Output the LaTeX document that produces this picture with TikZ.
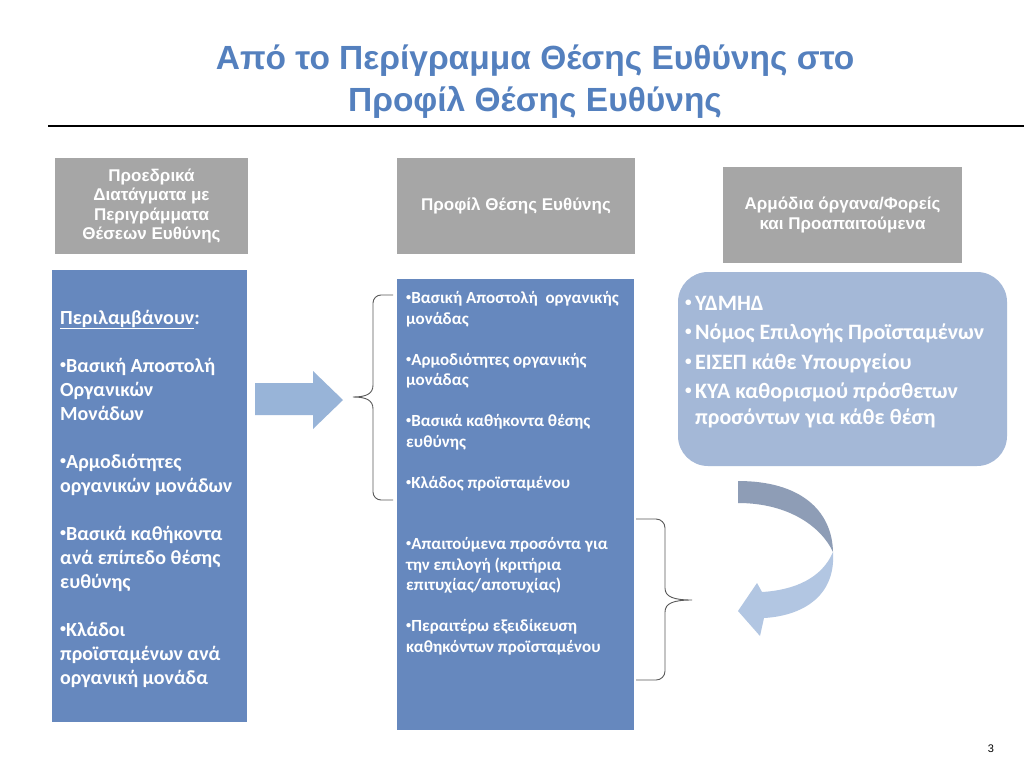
\documentclass[tikz,border=0pt]{standalone}
\usepackage{fontspec}
\setmainfont{Liberation Sans}
\newfontfamily\calibri{Carlito}
\usepackage{tikz}
\usetikzlibrary{positioning}

\definecolor{titleblue}{RGB}{84,128,190}
\definecolor{boxgray}{RGB}{166,166,166}
\definecolor{boxblue}{RGB}{102,136,190}
\definecolor{softblue}{RGB}{164,184,215}
\definecolor{arrowblue}{RGB}{152,180,216}
\definecolor{arrowdark}{RGB}{142,157,182}
\definecolor{arrowlight}{RGB}{178,198,226}
\definecolor{bracegray}{RGB}{89,89,89}

\newcommand\blt{\raisebox{.17em}{\scalebox{.6}{•}}}

\begin{document}
\begin{tikzpicture}[
        x = 1pt, y = -1pt, % pixel grid, y going down
        graybox/.style = {fill=boxgray, text=white, align=center, inner sep=0pt,
                          font=\bfseries\fontsize{17}{19.5}\selectfont},
        bluebox/.style = {fill=boxblue, inner sep=0pt},
        bodytext/.style = {text=white, anchor=base west, align=left, inner sep=0pt}, % base = last line
        bracket/.style = {draw=bracegray, line width=0.9pt}
        ]

  \fill[white] (0,0) rectangle (1024,768);
  \useasboundingbox (0,0) rectangle (1024,768);

  % title
  \node[font=\bfseries\fontsize{33.5}{42}\selectfont, text=titleblue, align=center,
        anchor=base, inner sep=0pt] (title) at (535,111)
        {Από το Περίγραμμα Θέσης Ευθύνης στο\\Προφίλ Θέσης Ευθύνης};
  \draw[line width=1.5pt] (48,126) -- (1024,126);

  % headers
  \node[graybox, minimum width=193pt, minimum height=96pt] (decrees) at (151.5,206)
        {Προεδρικά\\Διατάγματα με\\Περιγράμματα\\Θέσεων Ευθύνης};
  \node[graybox, minimum width=238pt, minimum height=96pt] (profile) at (516,206)
        {Προφίλ Θέσης Ευθύνης};
  \node[graybox, minimum width=239pt, minimum height=96pt] (bodies) at (842.5,215)
        {Αρμόδια όργανα/Φορείς\\και Προαπαιτούμενα};

  % left column
  \node[bluebox, minimum width=195pt, minimum height=452pt] (outline) at (149.5,496) {};
  \node[bodytext, font=\calibri\bfseries\fontsize{20}{24}\selectfont] (outlinetext) at (60,684)
        {\underline{Περιλαμβάνουν}:\\[24pt]
         \blt Βασική Αποστολή\\Οργανικών\\Μονάδων\\[24pt]
         \blt Αρμοδιότητες\\οργανικών μονάδων\\[24pt]
         \blt Βασικά καθήκοντα\\ανά επίπεδο θέσης\\ευθύνης\\[24pt]
         \blt Κλάδοι\\προϊσταμένων ανά\\οργανική μονάδα};

  % block arrow
  \fill[arrowblue] (255,383) -- (313,383) -- (313,371) -- (343,400)
        -- (313,429) -- (313,415) -- (255,415) -- cycle;

  % middle column
  \node[bluebox, minimum width=237pt, minimum height=451pt] (profilebox) at (515.5,504.5) {};
  \node[bodytext, font=\calibri\bfseries\fontsize{17}{20.5}\selectfont] (profiletext) at (406,652)
        {\blt Βασική Αποστολή\ \ οργανικής\\μονάδας\\[20.5pt]
         \blt Αρμοδιότητες οργανικής\\μονάδας\\[20.5pt]
         \blt Βασικά καθήκοντα θέσης\\ευθύνης\\[20.5pt]
         \blt Κλάδος προϊσταμένου\\[41pt]
         \blt Απαιτούμενα προσόντα για\\την επιλογή (κριτήρια\\επιτυχίας/αποτυχίας)\\[20.5pt]
         \blt Περαιτέρω εξειδίκευση\\καθηκόντων προϊσταμένου};

  % brackets
  \coordinate (b1top) at (393,295);
  \coordinate (b1bot) at (393,500);
  \coordinate (b1tip) at (353,397);
  \draw[bracket] (b1top) -- (381,295) to[out=180,in=90] (373,303) -- (373,385)
        .. controls (373,394) and (366,397) .. (b1tip)
        .. controls (366,397) and (373,400) .. (373,409) -- (373,492)
        to[out=-90,in=180] (381,500) -- (b1bot);

  \coordinate (b2top) at (636,519);
  \coordinate (b2bot) at (636,680);
  \coordinate (b2tip) at (692,600);
  \draw[bracket] (b2top) -- (656,519) to[out=0,in=90] (665,528) -- (665,588)
        .. controls (665,597) and (674,600) .. (b2tip)
        .. controls (674,600) and (665,603) .. (665,612) -- (665,671)
        to[out=-90,in=0] (656,680) -- (b2bot);

  % right column
  \node[fill=softblue, rounded corners=30pt, minimum width=329pt, minimum height=194pt,
        inner sep=0pt] (sources) at (842.5,369) {};
  \node[bodytext, font=\calibri\bfseries\fontsize{22}{25.5}\selectfont] (sourcestext) at (685,424)
        {\makebox[10pt][l]{\blt}ΥΔΜΗΔ\\[4pt]
         \makebox[10pt][l]{\blt}Νόμος Επιλογής Προϊσταμένων\\[4pt]
         \makebox[10pt][l]{\blt}ΕΙΣΕΠ κάθε Υπουργείου\\[4pt]
         \makebox[10pt][l]{\blt}ΚΥΑ καθορισμού πρόσθετων\\
         \hspace*{10pt}προσόντων για κάθε θέση};

  % curved arrow back to the profile
  \fill[arrowdark] (738,481) .. controls (800,481) and (832,510) .. (833,552)
        .. controls (822,528) and (790,503) .. (738,503) -- cycle;
  \fill[arrowlight] (833,552) .. controls (836,598) and (800,616) .. (764,618)
        -- (760,636) -- (738,611) -- (757,583) -- (762,592)
        .. controls (795,590) and (822,578) .. (833,552) -- cycle;

  % page number
  \node[font=\fontsize{11}{13}\selectfont, anchor=base, inner sep=0pt] (pagenum) at (991,752) {3};

\end{tikzpicture}
\end{document}
